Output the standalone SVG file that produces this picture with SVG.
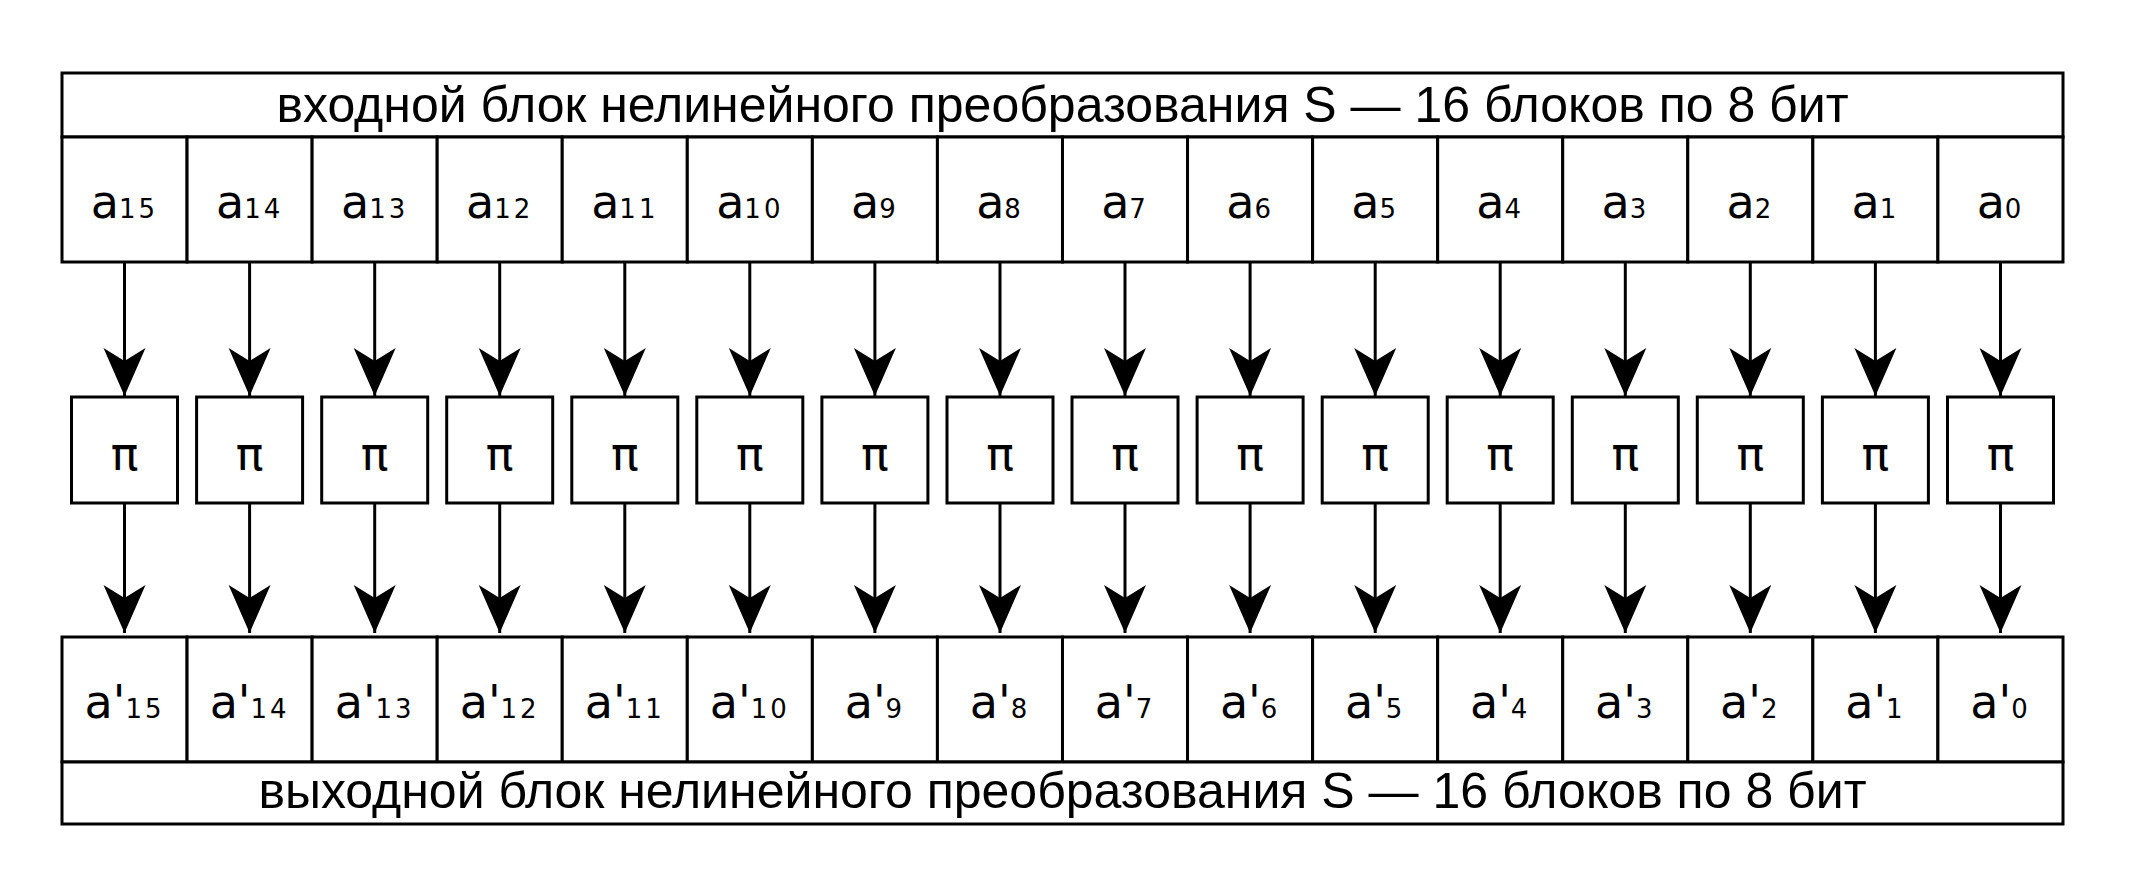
<svg xmlns="http://www.w3.org/2000/svg" width="2129" height="895" viewBox="0 0 2129 895">
<style>
.box{fill:#fff;stroke:#000;stroke-width:3}
.t{font-family:"Liberation Sans",Arial,sans-serif;font-size:50px;fill:#000;text-anchor:middle}
.lbl{font-family:"DejaVu Sans",sans-serif;font-size:46px;fill:#000;text-anchor:middle}
.sub{font-size:26px;letter-spacing:3px}
.pi{font-family:"DejaVu Sans",sans-serif;font-size:46px;fill:#000;text-anchor:middle}
.con{stroke:#000;stroke-width:3;fill:none;marker-end:url(#arr)}
</style>
<defs>
<marker id="arr" markerUnits="userSpaceOnUse" orient="auto" refX="0" refY="0" markerWidth="60" markerHeight="60" overflow="visible">
<path d="M0,0 L-48,-21 L-35,0 L-48,21 Z" fill="#000"/>
</marker>
</defs>
<rect width="2129" height="895" fill="#fff"/>
<g id="connectors">
<path class="con" d="M124.5,262 V396"/><path class="con" d="M124.5,503 V633"/>
<path class="con" d="M249.6,262 V396"/><path class="con" d="M249.6,503 V633"/>
<path class="con" d="M374.7,262 V396"/><path class="con" d="M374.7,503 V633"/>
<path class="con" d="M499.7,262 V396"/><path class="con" d="M499.7,503 V633"/>
<path class="con" d="M624.8,262 V396"/><path class="con" d="M624.8,503 V633"/>
<path class="con" d="M749.8,262 V396"/><path class="con" d="M749.8,503 V633"/>
<path class="con" d="M874.9,262 V396"/><path class="con" d="M874.9,503 V633"/>
<path class="con" d="M1000,262 V396"/><path class="con" d="M1000,503 V633"/>
<path class="con" d="M1125,262 V396"/><path class="con" d="M1125,503 V633"/>
<path class="con" d="M1250.1,262 V396"/><path class="con" d="M1250.1,503 V633"/>
<path class="con" d="M1375.2,262 V396"/><path class="con" d="M1375.2,503 V633"/>
<path class="con" d="M1500.2,262 V396"/><path class="con" d="M1500.2,503 V633"/>
<path class="con" d="M1625.3,262 V396"/><path class="con" d="M1625.3,503 V633"/>
<path class="con" d="M1750.3,262 V396"/><path class="con" d="M1750.3,503 V633"/>
<path class="con" d="M1875.4,262 V396"/><path class="con" d="M1875.4,503 V633"/>
<path class="con" d="M2000.5,262 V396"/><path class="con" d="M2000.5,503 V633"/>
</g>
<g id="input-header"><rect class="box" x="62" y="73" width="2001" height="64"/><text class="t" x="1062.5" y="122">входной блок нелинейного преобразования S — 16 блоков по 8 бит</text></g>
<g id="in15"><rect class="box" x="62" y="137" width="125.06" height="125"/><text class="lbl" x="124.5" y="218">a<tspan class="sub">15</tspan></text></g>
<g id="in14"><rect class="box" x="187.06" y="137" width="125.06" height="125"/><text class="lbl" x="249.6" y="218">a<tspan class="sub">14</tspan></text></g>
<g id="in13"><rect class="box" x="312.12" y="137" width="125.06" height="125"/><text class="lbl" x="374.7" y="218">a<tspan class="sub">13</tspan></text></g>
<g id="in12"><rect class="box" x="437.18" y="137" width="125.06" height="125"/><text class="lbl" x="499.7" y="218">a<tspan class="sub">12</tspan></text></g>
<g id="in11"><rect class="box" x="562.24" y="137" width="125.06" height="125"/><text class="lbl" x="624.8" y="218">a<tspan class="sub">11</tspan></text></g>
<g id="in10"><rect class="box" x="687.3" y="137" width="125.06" height="125"/><text class="lbl" x="749.8" y="218">a<tspan class="sub">10</tspan></text></g>
<g id="in9"><rect class="box" x="812.36" y="137" width="125.06" height="125"/><text class="lbl" x="874.9" y="218">a<tspan class="sub">9</tspan></text></g>
<g id="in8"><rect class="box" x="937.42" y="137" width="125.06" height="125"/><text class="lbl" x="1000" y="218">a<tspan class="sub">8</tspan></text></g>
<g id="in7"><rect class="box" x="1062.48" y="137" width="125.06" height="125"/><text class="lbl" x="1125" y="218">a<tspan class="sub">7</tspan></text></g>
<g id="in6"><rect class="box" x="1187.54" y="137" width="125.06" height="125"/><text class="lbl" x="1250.1" y="218">a<tspan class="sub">6</tspan></text></g>
<g id="in5"><rect class="box" x="1312.6" y="137" width="125.06" height="125"/><text class="lbl" x="1375.2" y="218">a<tspan class="sub">5</tspan></text></g>
<g id="in4"><rect class="box" x="1437.66" y="137" width="125.06" height="125"/><text class="lbl" x="1500.2" y="218">a<tspan class="sub">4</tspan></text></g>
<g id="in3"><rect class="box" x="1562.72" y="137" width="125.06" height="125"/><text class="lbl" x="1625.3" y="218">a<tspan class="sub">3</tspan></text></g>
<g id="in2"><rect class="box" x="1687.78" y="137" width="125.06" height="125"/><text class="lbl" x="1750.3" y="218">a<tspan class="sub">2</tspan></text></g>
<g id="in1"><rect class="box" x="1812.84" y="137" width="125.06" height="125"/><text class="lbl" x="1875.4" y="218">a<tspan class="sub">1</tspan></text></g>
<g id="in0"><rect class="box" x="1937.9" y="137" width="125.1" height="125"/><text class="lbl" x="2000.5" y="218">a<tspan class="sub">0</tspan></text></g>
<g id="pi15"><rect class="box" x="71.5" y="397" width="106" height="106"/><text class="pi" x="124.5" y="470">π</text></g>
<g id="pi14"><rect class="box" x="196.6" y="397" width="106" height="106"/><text class="pi" x="249.6" y="470">π</text></g>
<g id="pi13"><rect class="box" x="321.7" y="397" width="106" height="106"/><text class="pi" x="374.7" y="470">π</text></g>
<g id="pi12"><rect class="box" x="446.7" y="397" width="106" height="106"/><text class="pi" x="499.7" y="470">π</text></g>
<g id="pi11"><rect class="box" x="571.8" y="397" width="106" height="106"/><text class="pi" x="624.8" y="470">π</text></g>
<g id="pi10"><rect class="box" x="696.8" y="397" width="106" height="106"/><text class="pi" x="749.8" y="470">π</text></g>
<g id="pi9"><rect class="box" x="821.9" y="397" width="106" height="106"/><text class="pi" x="874.9" y="470">π</text></g>
<g id="pi8"><rect class="box" x="947" y="397" width="106" height="106"/><text class="pi" x="1000" y="470">π</text></g>
<g id="pi7"><rect class="box" x="1072" y="397" width="106" height="106"/><text class="pi" x="1125" y="470">π</text></g>
<g id="pi6"><rect class="box" x="1197.1" y="397" width="106" height="106"/><text class="pi" x="1250.1" y="470">π</text></g>
<g id="pi5"><rect class="box" x="1322.2" y="397" width="106" height="106"/><text class="pi" x="1375.2" y="470">π</text></g>
<g id="pi4"><rect class="box" x="1447.2" y="397" width="106" height="106"/><text class="pi" x="1500.2" y="470">π</text></g>
<g id="pi3"><rect class="box" x="1572.3" y="397" width="106" height="106"/><text class="pi" x="1625.3" y="470">π</text></g>
<g id="pi2"><rect class="box" x="1697.3" y="397" width="106" height="106"/><text class="pi" x="1750.3" y="470">π</text></g>
<g id="pi1"><rect class="box" x="1822.4" y="397" width="106" height="106"/><text class="pi" x="1875.4" y="470">π</text></g>
<g id="pi0"><rect class="box" x="1947.5" y="397" width="106" height="106"/><text class="pi" x="2000.5" y="470">π</text></g>
<g id="out15"><rect class="box" x="62" y="637" width="125.06" height="125"/><text class="lbl" x="124.5" y="718">a'<tspan class="sub">15</tspan></text></g>
<g id="out14"><rect class="box" x="187.06" y="637" width="125.06" height="125"/><text class="lbl" x="249.6" y="718">a'<tspan class="sub">14</tspan></text></g>
<g id="out13"><rect class="box" x="312.12" y="637" width="125.06" height="125"/><text class="lbl" x="374.7" y="718">a'<tspan class="sub">13</tspan></text></g>
<g id="out12"><rect class="box" x="437.18" y="637" width="125.06" height="125"/><text class="lbl" x="499.7" y="718">a'<tspan class="sub">12</tspan></text></g>
<g id="out11"><rect class="box" x="562.24" y="637" width="125.06" height="125"/><text class="lbl" x="624.8" y="718">a'<tspan class="sub">11</tspan></text></g>
<g id="out10"><rect class="box" x="687.3" y="637" width="125.06" height="125"/><text class="lbl" x="749.8" y="718">a'<tspan class="sub">10</tspan></text></g>
<g id="out9"><rect class="box" x="812.36" y="637" width="125.06" height="125"/><text class="lbl" x="874.9" y="718">a'<tspan class="sub">9</tspan></text></g>
<g id="out8"><rect class="box" x="937.42" y="637" width="125.06" height="125"/><text class="lbl" x="1000" y="718">a'<tspan class="sub">8</tspan></text></g>
<g id="out7"><rect class="box" x="1062.48" y="637" width="125.06" height="125"/><text class="lbl" x="1125" y="718">a'<tspan class="sub">7</tspan></text></g>
<g id="out6"><rect class="box" x="1187.54" y="637" width="125.06" height="125"/><text class="lbl" x="1250.1" y="718">a'<tspan class="sub">6</tspan></text></g>
<g id="out5"><rect class="box" x="1312.6" y="637" width="125.06" height="125"/><text class="lbl" x="1375.2" y="718">a'<tspan class="sub">5</tspan></text></g>
<g id="out4"><rect class="box" x="1437.66" y="637" width="125.06" height="125"/><text class="lbl" x="1500.2" y="718">a'<tspan class="sub">4</tspan></text></g>
<g id="out3"><rect class="box" x="1562.72" y="637" width="125.06" height="125"/><text class="lbl" x="1625.3" y="718">a'<tspan class="sub">3</tspan></text></g>
<g id="out2"><rect class="box" x="1687.78" y="637" width="125.06" height="125"/><text class="lbl" x="1750.3" y="718">a'<tspan class="sub">2</tspan></text></g>
<g id="out1"><rect class="box" x="1812.84" y="637" width="125.06" height="125"/><text class="lbl" x="1875.4" y="718">a'<tspan class="sub">1</tspan></text></g>
<g id="out0"><rect class="box" x="1937.9" y="637" width="125.1" height="125"/><text class="lbl" x="2000.5" y="718">a'<tspan class="sub">0</tspan></text></g>
<g id="output-footer"><rect class="box" x="62" y="762" width="2001" height="62"/><text class="t" x="1062.5" y="808">выходной блок нелинейного преобразования S — 16 блоков по 8 бит</text></g>
</svg>
